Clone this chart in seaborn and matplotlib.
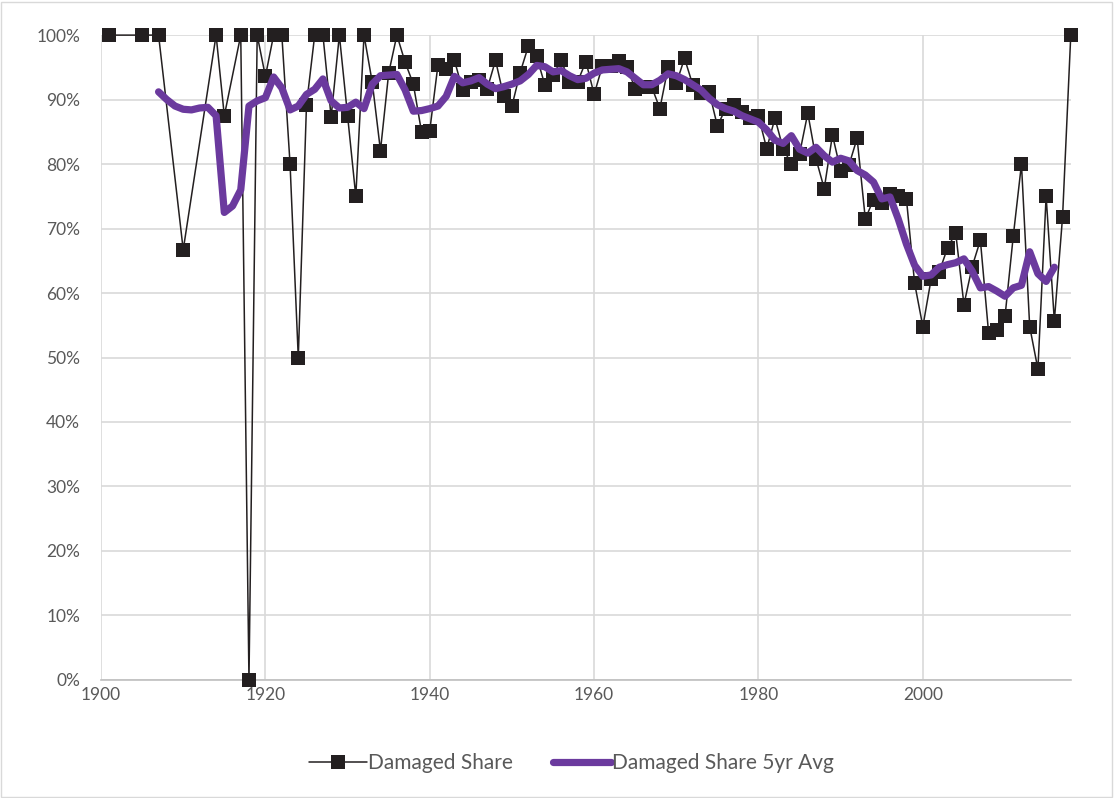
import matplotlib
matplotlib.use("Agg")
import matplotlib.pyplot as plt
import matplotlib.ticker as mticker
import seaborn as sns
import pandas as pd

years = [1901, 1905, 1907, 1910, 1914, 1915, 1917, 1918, 1919] + list(range(1920, 2019))
share = [
    100, 100, 100, 66.7, 100, 87.5, 100, 0, 100,
    93.6, 100, 100, 80.0, 50.0, 89.2, 100, 100, 87.3, 100,
    87.5, 75.0, 100, 92.7, 82.1, 94.1, 100, 95.8, 92.4, 85.0,
    85.2, 95.4, 94.8, 96.1, 91.5, 92.7, 93.0, 91.7, 96.1, 90.5,
    89.0, 94.2, 98.3, 96.7, 92.3, 93.8, 96.1, 92.7, 92.8, 95.9,
    90.8, 95.2, 95.2, 96.0, 95.0, 91.7, 92.0, 92.0, 88.6, 95.0,
    92.5, 96.4, 92.3, 91.0, 91.2, 85.9, 88.6, 89.2, 88.0, 87.2,
    87.4, 82.4, 87.1, 82.4, 80.0, 81.6, 87.9, 80.8, 76.2, 84.5,
    79.0, 79.8, 84.0, 71.5, 74.5, 74.0, 75.3, 75.0, 74.6, 61.5,
    54.8, 62.1, 63.3, 67.0, 69.3, 58.2, 64.1, 68.2, 53.8, 54.2,
    56.4, 68.8, 80.0, 54.8, 48.2, 75.0, 55.7, 71.8, 100,
]

avg_years = list(range(1907, 2017))
avg_share = [
    91.2, 90.0, 89.0, 88.5, 88.4, 88.7, 88.8, 87.5, 72.5, 73.5,
    76.0, 89.0, 89.8, 90.3, 93.5, 91.8, 88.4, 89.0, 90.8, 91.6,
    93.2, 89.8, 88.7, 88.8, 89.6, 88.6, 92.4, 93.7, 93.8, 93.9,
    91.5, 88.2, 88.3, 88.6, 89.0, 90.5, 93.6, 92.6, 92.9, 93.4,
    92.4, 91.7, 92.0, 92.4, 92.9, 93.9, 95.3, 95.1, 94.3, 94.5,
    93.7, 93.1, 93.3, 94.1, 94.6, 94.7, 94.8, 94.3, 93.3, 92.3,
    92.3, 93.0, 94.0, 93.7, 93.1, 92.3, 91.5, 90.2, 89.2, 88.6,
    88.2, 87.5, 87.0, 86.5, 85.3, 83.7, 83.2, 84.4, 82.3, 81.7,
    82.6, 81.3, 80.3, 80.9, 80.5, 79.0, 78.3, 77.2, 74.6, 74.9,
    71.5, 67.6, 64.3, 62.6, 62.8, 64.0, 64.4, 64.7, 65.3, 63.4,
    60.8, 61.0, 60.3, 59.5, 60.8, 61.2, 66.4, 63.0, 61.8, 64.0,
]

x_ticks = [1900, 1920, 1940, 1960, 1980, 2000]
y_ticks = [0, 10, 20, 30, 40, 50, 60, 70, 80, 90, 100]

df = pd.DataFrame({"year": years, "share": share})
df_avg = pd.DataFrame({"year": avg_years, "share": avg_share})

sns.set_theme(style="white")
plt.rcParams["font.family"] = ["Lato", "DejaVu Sans"]

fig = plt.figure(figsize=(11.14, 7.98), dpi=100)
ax = fig.add_axes([0.0907, 0.148, 0.8705, 0.808])

sns.lineplot(data=df, x="year", y="share", ax=ax, color="#231f20", linewidth=1.1,
             marker="s", markersize=9.5, markeredgewidth=0, sort=False,
             label="Damaged Share", clip_on=False, zorder=3)
sns.lineplot(data=df_avg, x="year", y="share", ax=ax, color="#6b3a9e", linewidth=5.2,
             sort=False, label="Damaged Share 5yr Avg",
             solid_capstyle="round", solid_joinstyle="round", zorder=4)

ax.set_xlim(1900, 2018)
ax.set_ylim(0, 100)
ax.set_xticks(x_ticks)
ax.set_yticks(y_ticks)
ax.yaxis.set_major_formatter(mticker.FuncFormatter(lambda v, p: f"{int(v)}%"))
ax.set_xlabel("")
ax.set_ylabel("")
ax.grid(True, color="#d9d9d9", linewidth=1.2)
ax.set_axisbelow(True)
for side in ["top", "right", "left"]:
    ax.spines[side].set_visible(False)
ax.spines["bottom"].set_color("#bfbfbf")
ax.spines["bottom"].set_linewidth(1.2)
ax.tick_params(axis="both", length=0, labelsize=12.5, colors="#595959")
ax.tick_params(axis="x", pad=5)
ax.tick_params(axis="y", pad=15)
for lbl in ax.get_xticklabels() + ax.get_yticklabels():
    lbl.set_color("#595959")

handles, labels = ax.get_legend_handles_labels()
ax.get_legend().remove()
fig.legend(handles, labels, loc="center", bbox_to_anchor=(0.513, 0.044), ncol=2,
           frameon=False, fontsize=15, labelcolor="#595959", handlelength=2.8,
           handletextpad=0.05, columnspacing=1.9)

fig.add_artist(plt.Rectangle((0.001, 0.001), 0.997, 0.997, transform=fig.transFigure,
                             fill=False, edgecolor="#d9d9d9", linewidth=1))

fig.savefig("out.png", dpi=100)
